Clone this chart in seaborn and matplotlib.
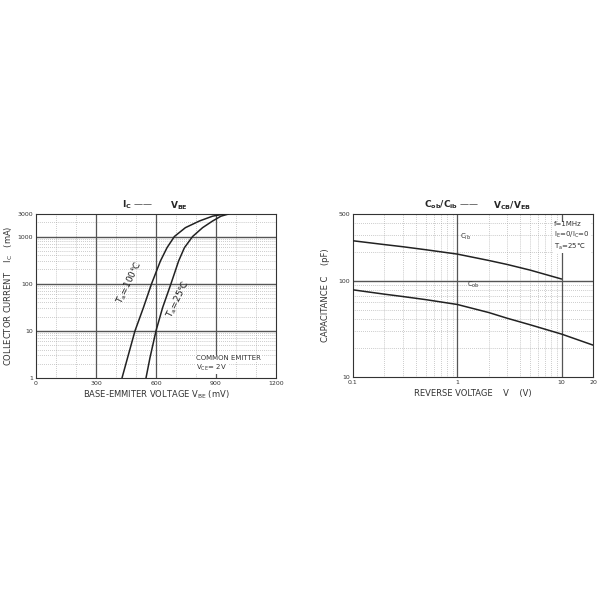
import numpy as np
import pandas as pd
import matplotlib
matplotlib.use("Agg")
import matplotlib.pyplot as plt
import seaborn as sns
from matplotlib.ticker import FixedLocator, NullLocator

sns.set_theme(style="white")
plt.rcParams['font.family'] = ['DejaVu Sans']
plt.rcParams['mathtext.default'] = 'regular'

# ---- Left chart data: Ic vs Vbe ----
ic_levels = [1, 2.7, 10, 31, 100, 302, 578, 1000, 1540, 2130, 2700, 3000]
vbe_100 = [430, 458, 495, 537, 578, 622, 655, 692, 747, 817, 883, 942]
vbe_25 = [550, 570, 600, 633, 675, 713, 742, 783, 833, 883, 925, 963]
left_xticks = [0, 300, 600, 900, 1200]
left_yticks = [1, 10, 100, 1000, 3000]

# ---- Right chart data: capacitance vs reverse voltage ----
v_ib = [0.1, 0.2, 0.3, 0.5, 1, 2, 3, 5, 10]
c_ib = [263, 240, 228, 212, 191, 164, 149, 130, 105]
v_ob = [0.1, 0.2, 0.3, 0.5, 1, 2, 3, 5, 10, 20]
c_ob = [81, 73, 69, 64, 57, 47, 41, 35, 28, 21.5]
right_xticks = [0.1, 1, 10, 20]
right_yticks = [10, 100, 500]

fig = plt.figure(figsize=(6, 6), dpi=100)
fig.patch.set_facecolor('white')

tick_fs = 4.5
lab_fs = 6
line_c = '#222222'
major_c = '#555555'
minor_c = '#a0a0a0'
dot = (0, (1, 1.8))

# ================= Left axes =================
axL = fig.add_axes([36/600, 1-378/600, 240/600, 164/600])
axL.set_yscale('log')
axL.set_xlim(0, 1200)
axL.set_ylim(1, 3000)
for v in range(100, 1200, 100):
    if v % 300 == 0:
        axL.axvline(v, color=major_c, lw=0.9, zorder=1)
    else:
        axL.axvline(v, color=minor_c, lw=0.5, ls=dot, zorder=1)
for dec in [1, 10, 100, 1000]:
    for m in range(2, 10):
        val = dec * m
        if val < 3000:
            axL.axhline(val, color=minor_c, lw=0.5, ls=dot, zorder=1)
for v in [10, 100, 1000]:
    axL.axhline(v, color=major_c, lw=1.0, zorder=1)

dfL = pd.DataFrame({
    'V': vbe_100 + vbe_25,
    'I': ic_levels + ic_levels,
    'T': ['100'] * len(vbe_100) + ['25'] * len(vbe_25),
})
sns.lineplot(data=dfL, x='V', y='I', hue='T', palette=[line_c, line_c],
             ax=axL, legend=False, lw=1.1, estimator=None, sort=False, zorder=3)
axL.xaxis.set_major_locator(FixedLocator(left_xticks))
axL.yaxis.set_major_locator(FixedLocator(left_yticks))
axL.yaxis.set_minor_locator(NullLocator())
axL.set_xticklabels([str(t) for t in left_xticks])
axL.set_yticklabels([str(t) for t in left_yticks])
axL.tick_params(labelsize=tick_fs, length=0, pad=2, colors='#333333')
axL.set_xlabel('BASE-EMMITER VOLTAGE V$_{BE}$ (mV)', fontsize=lab_fs, color='#333333', labelpad=2)
axL.set_ylabel('COLLECTOR CURRENT    I$_C$   (mA)', fontsize=lab_fs, color='#333333', labelpad=2)
for s in axL.spines.values():
    s.set_color('#333333'); s.set_linewidth(0.8)
axL.text(465, 105, 'T$_a$=100℃', rotation=64, fontsize=6.5, color=line_c, ha='center', va='center')
axL.text(712, 47, 'T$_a$=25℃', rotation=64, fontsize=6.5, color=line_c, ha='center', va='center')
axL.text(800, 2.6, 'COMMON EMITTER', fontsize=5, color='#333333', ha='left', va='center',
         bbox=dict(facecolor='white', edgecolor='none', pad=0.5))
axL.text(800, 1.65, 'V$_{CE}$= 2V', fontsize=5, color='#333333', ha='left', va='center',
         bbox=dict(facecolor='white', edgecolor='none', pad=0.5))
fig.text(122/600, 1-205/600, 'I$_C$ ——', fontsize=6.5, fontweight='bold', ha='left', va='center')
fig.text(170/600, 1-206/600, 'V$_{BE}$', fontsize=6.5, fontweight='bold', ha='left', va='center')

# ================= Right axes =================
axR = fig.add_axes([353/600, 1-377/600, 240/600, 163/600])
axR.set_xscale('log')
axR.set_yscale('log')
axR.set_xlim(0.1, 20)
axR.set_ylim(10, 500)
for dec in [0.1, 1, 10]:
    for m in range(2, 10):
        val = dec * m
        if val < 20:
            axR.axvline(val, color=minor_c, lw=0.5, ls=dot, zorder=1)
for dec in [10, 100]:
    for m in range(2, 10):
        val = dec * m
        if val < 500:
            axR.axhline(val, color=minor_c, lw=0.5, ls=dot, zorder=1)
axR.axvline(1, color=major_c, lw=0.9, zorder=1)
axR.axvline(10, color=major_c, lw=0.9, zorder=1)
axR.axhline(100, color=major_c, lw=1.0, zorder=1)

dfR = pd.DataFrame({
    'V': v_ib + v_ob,
    'C': c_ib + c_ob,
    'S': ['ib'] * len(v_ib) + ['ob'] * len(v_ob),
})
sns.lineplot(data=dfR, x='V', y='C', hue='S', palette=[line_c, line_c],
             ax=axR, legend=False, lw=1.1, estimator=None, sort=False, zorder=3)
axR.xaxis.set_major_locator(FixedLocator(right_xticks))
axR.xaxis.set_minor_locator(NullLocator())
axR.yaxis.set_major_locator(FixedLocator(right_yticks))
axR.yaxis.set_minor_locator(NullLocator())
axR.set_xticklabels(['0.1', '1', '10', '20'])
axR.set_yticklabels(['10', '100', '500'])
axR.tick_params(labelsize=tick_fs, length=0, pad=2, colors='#333333')
axR.set_xlabel('REVERSE VOLTAGE    V    (V)', fontsize=lab_fs, color='#333333', labelpad=3)
axR.set_ylabel('CAPACITANCE C    (pF)', fontsize=lab_fs, color='#333333', labelpad=6)
for s in axR.spines.values():
    s.set_color('#333333'); s.set_linewidth(0.8)
axR.text(1.05, 290, 'C$_{ib}$', fontsize=5, color='#333333', ha='left', va='center')
axR.text(1.25, 92, 'C$_{ob}$', fontsize=5, color='#333333', ha='left', va='center')
axR.text(8.5, 420, 'f=1MHz\nI$_E$=0/I$_C$=0\nT$_a$=25℃', fontsize=5, color='#333333',
         ha='left', va='top', linespacing=1.3,
         bbox=dict(facecolor='white', edgecolor='none', pad=1.0), zorder=4)
fig.text(424/600, 1-205/600, 'C$_{ob}$/C$_{ib}$ ——', fontsize=6.5, fontweight='bold', ha='left', va='center')
fig.text(493/600, 1-206/600, 'V$_{CB}$/V$_{EB}$', fontsize=6.5, fontweight='bold', ha='left', va='center')

fig.savefig('out.png', dpi=100, facecolor='white')
